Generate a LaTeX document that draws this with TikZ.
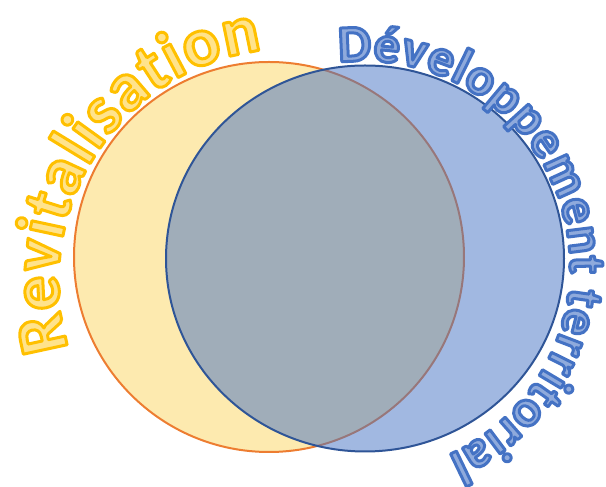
\documentclass[tikz,border=0pt]{standalone}
\usepackage{fontspec}
\usepackage{xcolor}
\usepackage{tikz}
\usetikzlibrary{decorations.text}
\newfontfamily\wafont{Carlito}

\definecolor{revfill}{HTML}{FDEAAF}
\definecolor{revline}{HTML}{ED7D31}
\definecolor{devfill}{HTML}{4472C4}
\definecolor{devline}{HTML}{2F5597}
\definecolor{revtext}{HTML}{FFE38C}
\definecolor{devtext}{HTML}{8FAADC}

% outlined letters (stroke colour as r g b)
\newcommand{\revletters}{\wafont\bfseries\fontsize{69}{69}\selectfont\color{revtext}\special{pdf:literal direct 1 0.753 0 RG 3 w 1 j 2 Tr}}
\newcommand{\devletters}{\wafont\bfseries\fontsize{52}{52}\selectfont\color{devtext}\special{pdf:literal direct 0.267 0.447 0.769 RG 3 w 1 j 2 Tr}}

\begin{document}
\begin{tikzpicture}[x=1pt, y=1pt,
    revcircle/.style={draw=revline, fill=revfill, line width=2pt},
    devcircle/.style={draw=devline, fill=devfill, fill opacity=0.5, line width=2pt},
    arctext/.style={decorate, decoration={text along path, text align={fit to path}, text={#1}}}]
    \useasboundingbox (0,0) rectangle (606,487);
    \draw[revcircle] (269,230) circle [radius=195];
    \draw[devcircle] (365,228.5) ellipse [x radius=199, y radius=193];
    % titles round the circles
    \path[arctext={|\revletters|Revitalisation}] (290.6,206.4) ++(197:232) arc [start angle=197, end angle=97, radius=232];
    \path[arctext={|\devletters|Développement territorial}] (364,220) ++(97:206) arc [start angle=97, end angle=-66, radius=206];
\end{tikzpicture}
\end{document}
